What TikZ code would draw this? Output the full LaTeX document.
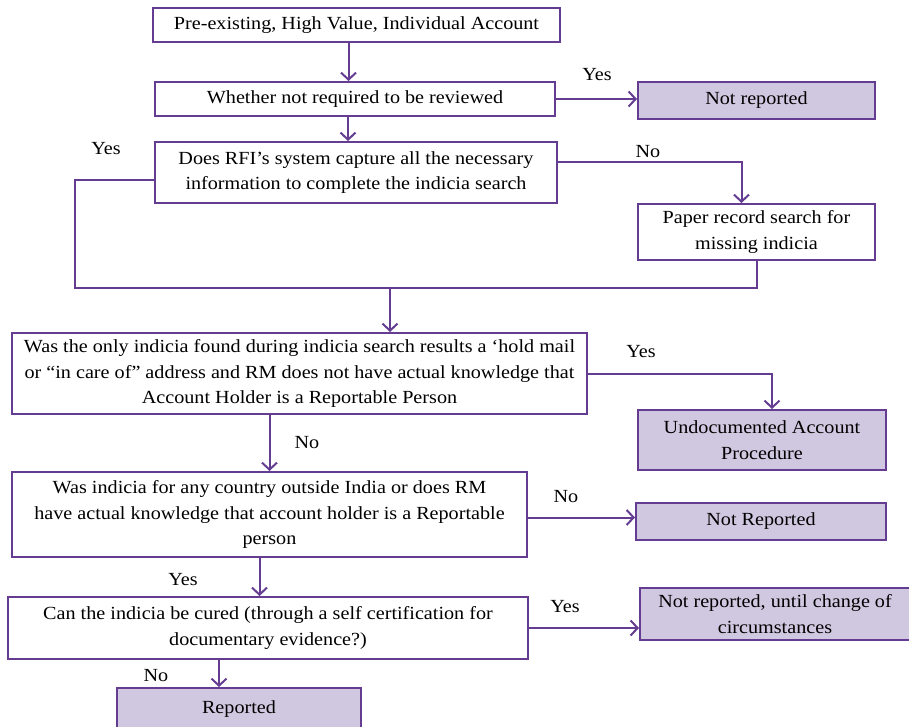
\documentclass[tikz,border=0pt]{standalone}
\usepackage{fontspec}
\setmainfont[FakeStretch=1.09]{Liberation Serif}
\usetikzlibrary{arrows.meta}
\definecolor{boxLine}{RGB}{100,60,145}
\definecolor{boxFill}{RGB}{208,200,224}
\begin{document}
\begin{tikzpicture}[x=1pt, y=-1pt, line width=2pt, draw=boxLine, >={Straight Barb[length=7pt,width=15pt]},
                    stepStyle/.style={rectangle, draw=boxLine, line width=2pt, fill=white, align=center, inner sep=2pt, font=\fontsize{18.5}{25.5}\selectfont},
                    endStyle/.style={stepStyle, fill=boxFill},
                    labelStyle/.style={font=\fontsize{18.5}{21}\selectfont}]
                    \useasboundingbox (0,0) rectangle (909,727);

                    \node[stepStyle, minimum width=407pt, minimum height=34pt] (box_1) at (356.5, 25) {Pre-existing, High Value, Individual Account};
                    \node[stepStyle, minimum width=400pt, minimum height=34pt] (box_2) at (355, 99) {Whether not required to be reviewed};
                    \node[endStyle,  minimum width=237pt, minimum height=37pt] (end_1) at (756.5, 100.5) {Not reported};
                    \node[stepStyle, minimum width=402pt, minimum height=61pt] (box_3) at (356, 172.5) {Does RFI’s system capture all the necessary\\information to complete the indicia search};
                    \node[stepStyle, minimum width=237pt, minimum height=56pt] (box_3b) at (756.5, 232) {Paper record search for\\missing indicia};

                    \node[stepStyle, minimum width=575pt, minimum height=81pt] (box_4) at (299.5, 373.5) {Was the only indicia found during indicia search results a ‘hold mail\\or “in care of” address and RM does not have actual knowledge that\\Account Holder is a Reportable Person};
                    \node[endStyle,  minimum width=248pt, minimum height=60pt] (end_2) at (762, 440) {Undocumented Account\\Procedure};

                    \node[stepStyle, minimum width=515pt, minimum height=85pt] (box_5) at (269.5, 514.5) {Was indicia for any country outside India or does RM\\have actual knowledge that account holder is a Reportable\\person};
                    \node[endStyle,  minimum width=250pt, minimum height=37pt] (end_3) at (761, 521.5) {Not Reported};

                    \node[stepStyle, minimum width=520pt, minimum height=62pt] (box_6) at (268, 628) {Can the indicia be cured (through a self certification for\\documentary evidence?)};
                    \node[endStyle,  minimum width=270pt, minimum height=52pt] (end_4) at (775, 614) {Not reported, until change of\\circumstances};
                    \node[endStyle,  minimum width=244pt, minimum height=42pt] (end_5) at (239, 709) {Reported};

                    \node[labelStyle] (lab_1) at (597, 75) {Yes};
                    \node[labelStyle] (lab_2) at (106, 149) {Yes};
                    \node[labelStyle] (lab_3) at (648, 152) {No};
                    \node[labelStyle] (lab_4) at (641, 352) {Yes};
                    \node[labelStyle] (lab_5) at (307, 443) {No};
                    \node[labelStyle] (lab_6) at (566, 497) {No};
                    \node[labelStyle] (lab_7) at (183, 580) {Yes};
                    \node[labelStyle] (lab_8) at (565, 607) {Yes};
                    \node[labelStyle] (lab_9) at (156, 676) {No};

                    \coordinate (loop_L) at (75, 288);
                    \coordinate (loop_J) at (390, 288);

                    \draw[->] ([xshift=-8pt]box_1.south) -- ([xshift=-8pt]box_1.south |- box_2.north);
                    \draw[->] (box_2.east) -- (box_2.east -| end_1.west);
                    \draw[->] ([xshift=-7pt]box_2.south) -- ([xshift=-7pt]box_2.south |- box_3.north);

                    \draw[->] ([yshift=10pt]box_3.east) -| ([xshift=-15pt]box_3b.north);
                    \draw ([yshift=-8pt]box_3.west) -| (loop_L) -- (loop_J);
                    \draw (box_3b.south) |- (loop_J);
                    \draw[->] (loop_J) -- (loop_J |- box_4.north);

                    \draw[->] (box_4.east) -| ([xshift=10pt]end_2.north);
                    \draw[->] (box_4.south -| box_5.north) -- (box_5.north);

                    \draw[->] ([yshift=-3pt]box_5.east) -- ([yshift=-3pt]box_5.east -| end_3.west);
                    \draw[->] ([xshift=-10pt]box_5.south) -- ([xshift=-10pt]box_5.south |- box_6.north);

                    \draw[->] (box_6.east) -- (box_6.east -| end_4.west);
                    \draw[->] ([xshift=-20pt]end_5.north |- box_6.south) -- ([xshift=-20pt]end_5.north);
                \end{tikzpicture}
\end{document}
